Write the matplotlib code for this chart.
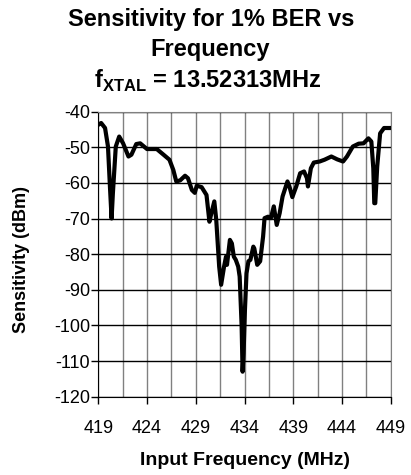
import matplotlib
matplotlib.use("Agg")
import matplotlib.pyplot as plt
import numpy as np

plt.rcParams['font.family'] = ['Liberation Sans', 'DejaVu Sans']
plt.rcParams['axes.unicode_minus'] = False
plt.rcParams['mathtext.fontset'] = 'custom'
plt.rcParams['mathtext.bf'] = 'Liberation Sans:bold'
plt.rcParams['mathtext.rm'] = 'Liberation Sans'

freq = [419.0, 419.3, 419.7, 420.0, 420.2, 420.37, 420.5, 420.8, 421.15, 421.55,
        422.1, 422.4, 422.9, 423.3, 424.0, 425.0, 425.7, 426.3, 426.7, 427.0,
        427.4, 427.9, 428.2, 428.6, 428.9, 429.1, 429.6, 430.1, 430.4, 430.6,
        430.9, 431.1, 431.4, 431.6, 431.9, 432.1, 432.2, 432.5, 432.7, 432.9,
        433.1, 433.35, 433.5, 433.7, 433.8, 433.9, 434.04, 434.2, 434.4, 434.6,
        434.9, 435.0, 435.3, 435.6, 435.9, 436.05, 436.4, 436.7, 437.0, 437.3,
        437.6, 437.9, 438.4, 438.6, 438.9, 439.3, 439.7, 440.1, 440.4, 440.5,
        440.8, 441.1, 441.7, 442.2, 442.9, 443.5, 444.1, 444.5, 445.1, 445.7,
        446.2, 446.7, 447.0, 447.2, 447.3, 447.4, 447.6, 447.9, 448.3, 449.0]
sens = [-43.7, -43.2, -44.6, -49.8, -61.0, -70.0, -63.0, -49.8, -47.0, -48.9,
        -52.6, -52.1, -49.1, -48.9, -50.5, -50.5, -52.1, -53.5, -56.4, -59.6,
        -59.3, -58.0, -58.7, -62.0, -62.8, -60.8, -61.2, -63.4, -70.9, -68.5,
        -65.2, -70.4, -83.5, -88.6, -83.5, -80.7, -83.0, -76.0, -77.0, -80.7,
        -81.6, -83.5, -86.3, -100.0, -113.0, -108.0, -95.7, -85.4, -82.0, -81.6,
        -77.9, -78.4, -83.0, -82.0, -75.1, -69.9, -69.5, -69.9, -66.6, -71.8,
        -68.5, -63.8, -59.6, -61.0, -64.0, -61.0, -57.3, -56.8, -58.7, -61.0,
        -55.9, -54.3, -54.0, -53.5, -52.6, -53.4, -54.0, -52.6, -49.8, -49.0,
        -48.9, -47.5, -48.4, -55.9, -65.7, -65.7, -55.4, -46.1, -44.6, -44.6]

xticks = np.arange(419, 450, 5)
xgrid = np.arange(419, 449.1, 2.5)
yticks = np.arange(-120, -39, 10)

fig = plt.figure(figsize=(4.11, 4.75), dpi=100)
ax = fig.add_axes([0.239, 0.165, 0.712, 0.600])

ax.plot(freq, sens, color='black', linewidth=3.0, solid_joinstyle='round', zorder=3)

ax.set_xlim(419, 449)
ax.set_ylim(-120, -40)
ax.set_xticks(xticks)
ax.set_xticks(xgrid, minor=True)
ax.set_yticks(yticks)

ax.grid(True, axis='x', which='both', color='#808080', linewidth=1.0)
ax.grid(True, axis='y', which='major', color='black', linewidth=1.0)
ax.set_axisbelow(True)

ax.tick_params(axis='x', which='major', length=5, width=1, pad=12, labelsize=13)
ax.tick_params(axis='x', which='minor', length=0)
ax.tick_params(axis='y', length=5, width=1, pad=1, labelsize=13)

for s in ['top', 'right']:
    ax.spines[s].set_color('#808080')
for s in ['left', 'bottom']:
    ax.spines[s].set_color('black')

ax.set_xlabel('Input Frequency (MHz)', fontsize=14, fontweight='bold')
ax.xaxis.set_label_coords(0.503, -0.2226)
ax.xaxis.label.set_va('center')
ax.set_ylabel('Sensitivity (dBm)', fontsize=13, fontweight='bold')
ax.yaxis.set_label_coords(-0.2617, 0.48)
ax.yaxis.label.set_va('center')

fig.text(0.515, 0.958, 'Sensitivity for 1% BER vs', ha='center', va='center',
         fontsize=17, fontweight='bold')
fig.text(0.512, 0.895, 'Frequency', ha='center', va='center',
         fontsize=17, fontweight='bold')
fig.text(0.505, 0.829, r'f$_{\mathbf{XTAL}}$ = 13.52313MHz', ha='center', va='center',
         fontsize=17, fontweight='bold')

fig.savefig('out.png', dpi=100)
